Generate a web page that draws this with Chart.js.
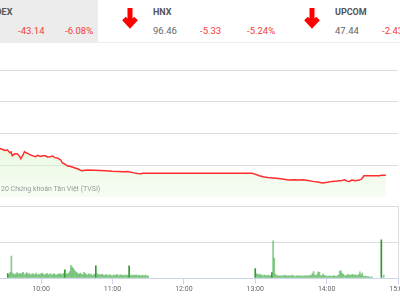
<!DOCTYPE html>
<html>
<head>
<meta charset="utf-8">
<script src="https://cdn.jsdelivr.net/npm/chart.js@4.4.1/dist/chart.umd.min.js"></script>
<style>
html, body { margin: 0; padding: 0; }
body { width: 400px; height: 300px; overflow: hidden; position: relative; background: #fff; font-family: Roboto, "Noto Sans", sans-serif; }
.t { position: absolute; white-space: nowrap; line-height: 1; }
.lbl { font-size: 9px; font-weight: bold; color: #555; top: 8px; }
.num { font-size: 9.5px; top: 26px; }
.grey { color: #666; }
.red { color: #f23b3b; }
.arrow { position: absolute; top: 8px; }
#sel { position: absolute; left: 0; top: 0; width: 98px; height: 42px; background: #ececec; }
#hline { position: absolute; left: 0; top: 42px; width: 400px; height: 1px; background: #eeeeee; }
#priceBox { position: absolute; left: -40px; top: 70px; width: 438px; height: 127px; }
#volBox { position: absolute; left: -40px; top: 206px; width: 448px; height: 94px; }
#credit { position: absolute; left: 1px; top: 185px; font-size: 7px; color: #999; white-space: nowrap; }
</style>
</head>
<body>
<div id="sel"></div>
<div id="hline"></div>
<div id="header"></div>
<div id="priceBox"><canvas id="price"></canvas></div>
<div id="credit">20 Chứng khoán Tân Việt (TVSI)</div>
<div id="volBox"><canvas id="vol"></canvas></div>
<script>
// header cards
const indexNames = ['VN-INDEX', 'HNX', 'UPCOM'];
const indexValues = ['', '96.46', '47.44'];
const indexChanges = ['-43.14', '-5.33', '-2.43'];
const indexPct = ['-6.08%', '-5.24%', ''];

// price line (time, index points)
const priceTimes = ['09:15','09:18','09:21','09:24','09:27','09:30','09:33','09:35','09:37','09:39',
  '09:41','09:42','09:43','09:45','09:47','09:49','09:50','09:52','09:53','09:54',
  '09:56','09:58','10:00','10:02','10:04','10:06','10:08','10:10','10:12','10:14',
  '10:16','10:18','10:20','10:21','10:23','10:24','10:26','10:28','10:31','10:34',
  '10:37','10:40','10:43','10:45','10:50','10:55','11:00','11:05','11:10','11:15',
  '11:18','11:20','11:23','11:26','11:29','11:30','13:00','13:03','13:06','13:10',
  '13:13','13:17','13:20','13:25','13:30','13:35','13:38','13:42','13:46','13:50',
  '13:55','13:58','14:02','14:06','14:10','14:14','14:16','14:18','14:20','14:22',
  '14:25','14:28','14:30','14:32','14:40','14:45','14:46','14:50'];
const priceValues = [689.0,687.5,688.6,687.2,688.4,687.6,688.1,687.4,686.6,687.0,
  684.9,685.5,682.5,684.0,684.1,682.0,680.2,683.5,685.7,685.0,
  684.1,683.0,682.4,681.7,682.8,681.9,682.5,682.5,681.5,681.7,
  682.3,681.0,680.8,680.2,679.0,677.0,676.0,674.6,674.0,673.0,
  672.0,670.6,671.0,671.2,671.0,670.8,670.6,670.2,670.0,669.8,
  670.1,669.6,669.0,668.5,668.3,668.7,668.7,667.8,666.7,665.8,
  665.3,665.0,664.7,664.2,663.3,663.6,663.3,663.6,663.0,662.3,
  661.7,661.1,661.6,662.3,662.6,663.0,663.6,662.5,662.3,663.3,
  662.8,663.3,664.0,666.7,666.7,666.7,667.2,667.2];

// volume, one bar per minute
const morningStart = '09:32';
const morningVol = [0.12,0.10,0.16,0.61,0.14,0.11,0.09,0.12,0.15,0.10,
  0.13,0.11,0.14,0.16,0.09,0.12,0.15,0.10,0.13,0.08,
  0.11,0.12,0.09,0.10,0.14,0.08,0.11,0.09,0.12,0.14,
  0.10,0.08,0.11,0.13,0.09,0.10,0.12,0.07,0.10,0.12,
  0.09,0.08,0.11,0.10,0.12,0.09,0.11,0.13,0.23,0.12,
  0.10,0.14,0.18,0.35,0.31,0.27,0.22,0.18,0.15,0.12,
  0.10,0.14,0.11,0.09,0.16,0.13,0.10,0.08,0.12,0.09,
  0.11,0.07,0.09,0.10,0.34,0.12,0.09,0.10,0.08,0.11,
  0.09,0.07,0.08,0.10,0.06,0.08,0.09,0.07,0.06,0.09,
  0.07,0.08,0.10,0.06,0.08,0.09,0.07,0.08,0.06,0.09,
  0.07,0.08,0.34,0.07,0.09,0.06,0.08,0.07,0.09,0.06,
  0.08,0.07,0.05,0.08,0.06,0.07,0.08,0.05,0.06];
const afternoonStart = '13:00';
const afternoonVol = [0.26,0.12,0.10,0.08,0.11,0.07,0.09,0.06,0.08,0.07,
  0.05,0.08,0.06,0.07,0.15,1.03,0.55,0.10,0.06,0.07,
  0.05,0.06,0.05,0.07,0.06,0.08,0.05,0.06,0.07,0.05,
  0.06,0.08,0.05,0.06,0.04,0.07,0.05,0.06,0.05,0.07,
  0.04,0.06,0.05,0.07,0.06,0.05,0.08,0.06,0.12,0.18,
  0.08,0.06,0.10,0.17,0.16,0.07,0.06,0.11,0.08,0.05,
  0.06,0.04,0.05,0.06,0.04,0.05,0.07,0.05,0.04,0.06,
  0.08,0.19,0.20,0.14,0.10,0.07,0.06,0.08,0.10,0.07,
  0.09,0.08,0.10,0.07,0.09,0.08,0.06,0.10,0.17,0.09,
  0.14,0.05,0.04,0.05,0.03,0.04,0.03,0.02,0.03];
const atcTimes = ['14:46', '14:48'];
const atcVol = [1.06, 0.08];
const darkTimes = ['09:32', '10:20', '10:46', '11:14', '13:00', '13:14', '14:46'];

const tickLabels = ['09:00', '10:00', '11:00', '12:00', '13:00', '14:00', '15:00'];

const toMin = s => { let p = s.split(':'); return (+p[0] - 9) * 60 + (+p[1]); };

// header
let $h = document.getElementById('header');
indexNames.forEach((name, i) => {
  let x = -29 + i * 182;
  let html = `<svg class="arrow" style="left:${x - 31}px" width="16" height="21" viewBox="0 0 16 21">
    <path d="M8 0 V17 M2 10.5 L8 17 L14 10.5" stroke="#ff0000" stroke-width="5" fill="none"/></svg>`;
  html += `<div class="t lbl" style="left:${x}px">${name}</div>`;
  if (indexValues[i]) html += `<div class="t num grey" style="left:${x}px">${indexValues[i]}</div>`;
  html += `<div class="t num red" style="left:${x + 47}px">${indexChanges[i]}</div>`;
  if (indexPct[i]) html += `<div class="t num red" style="left:${x + 94}px">${indexPct[i]}</div>`;
  $h.insertAdjacentHTML('beforeend', html);
});

const pricePoints = priceTimes.map((t, i) => ({ x: toMin(t), y: priceValues[i] }));
let volPoints = [];
morningVol.forEach((v, i) => volPoints.push({ x: toMin(morningStart) + i, y: v }));
afternoonVol.forEach((v, i) => volPoints.push({ x: toMin(afternoonStart) + i, y: v }));
atcTimes.forEach((t, i) => volPoints.push({ x: toMin(t), y: atcVol[i] }));
const darkMin = darkTimes.map(toMin);
const volColors = volPoints.map(p => darkMin.includes(p.x) ? '#2e9a32' : 'rgba(76,175,80,0.65)');

const gridCol = '#dcdcdc';
const lastOnly = c => (c.tick && c.tick.value === 360) ? gridCol : 'rgba(0,0,0,0)';

new Chart(document.getElementById('price').getContext('2d'), {
  type: 'line',
  data: {
    datasets: [{
      data: pricePoints,
      borderColor: '#ff2d2d',
      borderWidth: 1.5,
      pointRadius: 0,
      tension: 0,
      fill: 'start',
      backgroundColor: (ctx) => {
        let area = ctx.chart.chartArea;
        if (!area) return 'rgba(220,245,210,0.6)';
        let g = ctx.chart.ctx.createLinearGradient(0, area.top, 0, area.bottom);
        g.addColorStop(0, 'rgba(200,240,180,0.7)');
        g.addColorStop(0.6, 'rgba(215,244,200,0.55)');
        g.addColorStop(1, 'rgba(235,250,228,0.45)');
        return g;
      }
    }]
  },
  options: {
    responsive: true, maintainAspectRatio: false, animation: false,
    layout: { padding: 0, autoPadding: false },
    plugins: { legend: { display: false }, tooltip: { enabled: false } },
    scales: {
      x: { type: 'linear', min: 0, max: 360, ticks: { display: false, stepSize: 60 },
           grid: { drawTicks: false, color: lastOnly }, border: { display: false } },
      y: { min: 650, max: 750, ticks: { display: false, stepSize: 25 },
           grid: { drawTicks: false, color: gridCol }, border: { display: false } }
    }
  }
});

new Chart(document.getElementById('vol').getContext('2d'), {
  type: 'bar',
  data: {
    datasets: [{ data: volPoints, backgroundColor: volColors, barThickness: 1, borderWidth: 0 }]
  },
  options: {
    responsive: true, maintainAspectRatio: false, animation: false,
    layout: { padding: { right: 10 }, autoPadding: false },
    plugins: { legend: { display: false }, tooltip: { enabled: false } },
    scales: {
      x: { type: 'linear', min: 0, max: 360, offset: false,
           ticks: { stepSize: 60, autoSkip: false, maxRotation: 0, padding: 1, color: '#666',
                    font: { size: 7, family: 'Roboto' }, callback: v => tickLabels[v / 60] },
           grid: { offset: false, color: lastOnly, tickColor: '#ccd6eb', tickLength: 6 },
           border: { color: '#ccd6eb' },
           afterFit: s => { s.height = 22; } },
      y: { min: 0, max: 2, ticks: { display: false, stepSize: 1 },
           grid: { drawTicks: false, color: c => (c.tick && c.tick.value === 0) ? 'rgba(0,0,0,0)' : gridCol },
           border: { display: false } }
    }
  }
});
</script>
</body>
</html>
